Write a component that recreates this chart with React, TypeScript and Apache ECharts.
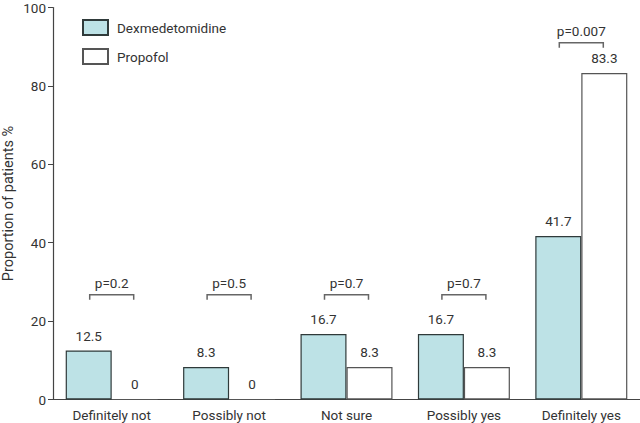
import React, { useEffect, useRef } from "react";
import * as echarts from "echarts";

const categories = ["Definitely not", "Possibly not", "Not sure", "Possibly yes", "Definitely yes"];
const dexValues = [12.5, 8.3, 16.7, 16.7, 41.7];
const propofolValues = [0, 0, 8.3, 8.3, 83.3];
const pValues = ["p=0.2", "p=0.5", "p=0.7", "p=0.7", "p=0.007"];
const bracketLevels = [26.7, 26.7, 26.7, 26.7, 91];
const yTicks = { min: 0, max: 100, interval: 20 };

const FONT = "Roboto, 'Noto Sans', sans-serif";
const TEXT = "#333";
const FS = 13.5;

export default function App() {
  const ref = useRef<HTMLDivElement>(null);
  useEffect(() => {
    document.body.style.margin = "0";
    const chart = echarts.init(ref.current!, null, { renderer: "svg" });
    chart.setOption({
      animation: false,
      textStyle: { fontFamily: FONT },
      grid: { left: 53, right: 0, top: 7.5, bottom: 23.5, containLabel: false, outerBoundsMode: "none" },
      legend: {
        left: 77,
        top: 14,
        orient: "vertical",
        itemWidth: 25,
        itemHeight: 15,
        itemGap: 12,
        icon: "rect",
        textStyle: { fontSize: FS, color: TEXT, fontFamily: FONT, padding: [0, 0, 0, 4] },
        data: ["Dexmedetomidine", "Propofol"],
      },
      xAxis: {
        type: "category",
        data: categories,
        axisLine: { lineStyle: { color: "#444", width: 1.2 } },
        axisTick: { alignWithLabel: true, length: 5, lineStyle: { color: "#444" } },
        axisLabel: { fontSize: FS, color: TEXT, margin: 8, fontFamily: FONT },
      },
      yAxis: {
        type: "value",
        min: yTicks.min,
        max: yTicks.max,
        interval: yTicks.interval,
        name: "Proportion of patients %",
        nameLocation: "middle",
        nameGap: 37,
        nameMoveOverlap: false,
        nameTextStyle: { fontSize: 14.5, color: TEXT, fontFamily: FONT },
        axisLine: { show: true, lineStyle: { color: "#444", width: 1.2 } },
        axisTick: { show: true, length: 5, lineStyle: { color: "#444" } },
        axisLabel: { fontSize: FS, color: TEXT, margin: 7, fontFamily: FONT },
        splitLine: { show: false },
      },
      series: [
        {
          name: "Dexmedetomidine",
          type: "bar",
          data: dexValues,
          barWidth: 46,
          barGap: "0%",
          itemStyle: { color: "#bde2e6", borderColor: "#2f3a3a", borderWidth: 1.2 },
          label: { show: true, position: "top", distance: 8, fontSize: FS, color: TEXT, fontFamily: FONT },
        },
        {
          name: "Propofol",
          type: "bar",
          data: propofolValues,
          barWidth: 46,
          barGap: "0%",
          itemStyle: { color: "#ffffff", borderColor: "#555", borderWidth: 1.2 },
          label: { show: true, position: "top", distance: 8, fontSize: FS, color: TEXT, fontFamily: FONT },
        },
        {
          type: "custom",
          name: "brackets",
          data: bracketLevels.map((lvl, i) => [i, lvl]),
          z: 5,
          renderItem: (params: any, api: any) => {
            const idx = api.value(0);
            const p = api.coord([idx, api.value(1)]);
            const half = 22;
            return {
              type: "group",
              children: [
                {
                  type: "polyline",
                  shape: {
                    points: [
                      [p[0] - half, p[1] + 5],
                      [p[0] - half, p[1]],
                      [p[0] + half, p[1]],
                      [p[0] + half, p[1] + 5],
                    ],
                  },
                  style: { stroke: "#666", lineWidth: 1.5, fill: null },
                },
                {
                  type: "text",
                  x: p[0],
                  y: p[1] - 12,
                  style: {
                    text: pValues[idx],
                    fontSize: FS,
                    fill: TEXT,
                    fontFamily: FONT,
                    align: "center",
                    verticalAlign: "middle",
                  },
                },
              ],
            };
          },
        },
      ],
    });
    return () => chart.dispose();
  }, []);
  return <div ref={ref} style={{ width: 640, height: 423 }} />;
}
